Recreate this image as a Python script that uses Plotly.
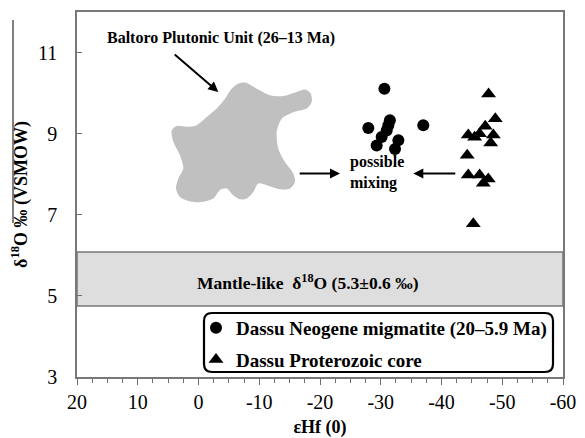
import plotly.graph_objects as go

# ---- data ----
neogene_ehf = [-30.6, -27.95, -37.0, -31.5, -31.25, -30.98, -30.15, -29.33, -32.9, -32.35]
neogene_d18o = [10.11, 9.14, 9.21, 9.33, 9.21, 9.08, 8.92, 8.71, 8.84, 8.62]

protero_ehf = [-47.75, -48.86, -47.2, -44.4, -45.45, -46.26, -48.53, -48.1, -44.23,
               -44.4, -46.27, -46.88, -47.7, -45.23]
protero_d18o = [9.98, 9.37, 9.18, 8.97, 8.91, 9.0, 8.97, 8.77, 8.47,
                7.98, 7.98, 7.78, 7.88, 6.78]

# Baltoro Plutonic Unit field outline (eHf, d18O)
baltoro_ehf = [-7.65, -9.58, -11.77, -13.96, -16.16, -17.53, -18.47, -18.63, -17.81, -15.6,
               -13.7, -12.87, -13.14, -14.24, -15.6, -15.88, -15.06, -13.42, -11.23, -9.84,
               -9.02, -7.93, -6.83, -5.73, -4.64, -3.54, -2.44, -0.79, 1.12, 3.05,
               3.70, 3.33, 2.50, 3.05, 4.15, 4.41, 3.59, 1.94, 0.30, -1.35,
               -3.0, -4.36, -5.46, -6.55, -7.65]
baltoro_d18o = [10.26, 10.11, 9.95, 9.93, 10.03, 10.09, 9.99, 9.78, 9.62, 9.53,
                9.37, 9.04, 8.63, 8.30, 8.02, 7.81, 7.65, 7.63, 7.73, 7.77,
                7.56, 7.40, 7.38, 7.48, 7.65, 7.61, 7.40, 7.32, 7.32, 7.44,
                7.65, 7.89, 8.14, 8.47, 8.80, 9.08, 9.19, 9.17, 9.21, 9.41,
                9.62, 9.86, 10.11, 10.23, 10.26]

mantle_low, mantle_high = 4.75, 6.08
x_ticks = [20, 10, 0, -10, -20, -30, -40, -50, -60]
y_ticks = [3, 5, 7, 9, 11]

SERIF = "Liberation Serif, Times New Roman, serif"

fig = go.Figure()

fig.add_trace(go.Scatter(
    x=baltoro_ehf, y=baltoro_d18o, mode="lines", fill="toself",
    fillcolor="rgb(192,192,192)", line=dict(color="rgb(192,192,192)", width=0, shape="spline", smoothing=0.8),
    showlegend=False, hoverinfo="skip"))

fig.add_trace(go.Scatter(
    x=neogene_ehf, y=neogene_d18o, mode="markers",
    marker=dict(symbol="circle", size=12, color="black"),
    name="<b>Dassu Neogene migmatite (20–5.9 Ma)</b>", legendgroup="a"))

fig.add_trace(go.Scatter(
    x=protero_ehf, y=protero_d18o, mode="markers",
    marker=dict(symbol="triangle-up", size=13, color="black"),
    name="<b>Dassu Proterozoic core</b>", legendgroup="b"))

# mantle band
fig.add_shape(type="rect", xref="paper", yref="y", x0=0, x1=1, y0=mantle_low, y1=mantle_high,
              fillcolor="rgb(222,222,222)", line=dict(color="rgb(120,120,120)", width=1.5), layer="below")

# rounded legend box
lx0, lx1, ly0, ly1 = (204 - 77) / 486, (553 - 77) / 486, (377 - 372) / 365, (377 - 313) / 365
rx, ry = 8 / 486, 8 / 365
path = (f"M {lx0+rx},{ly0} L {lx1-rx},{ly0} Q {lx1},{ly0} {lx1},{ly0+ry} "
        f"L {lx1},{ly1-ry} Q {lx1},{ly1} {lx1-rx},{ly1} L {lx0+rx},{ly1} "
        f"Q {lx0},{ly1} {lx0},{ly1-ry} L {lx0},{ly0+ry} Q {lx0},{ly0} {lx0+rx},{ly0} Z")
fig.add_shape(type="path", xref="paper", yref="paper", path=path,
              line=dict(color="black", width=2.2), fillcolor="white", layer="above")

# scan artefact line at left
fig.add_shape(type="line", xref="paper", yref="paper", x0=(13 - 77) / 486, x1=(13 - 77) / 486,
              y0=(377 - 223) / 365, y1=(377 - 20) / 365, line=dict(color="black", width=1))

fig.add_annotation(x=-3.7, y=11.37, text="<b>Baltoro Plutonic Unit (26–13 Ma)</b>",
                   showarrow=False, font=dict(family=SERIF, size=16, color="black"))
fig.add_annotation(x=-18.0, y=5.34, text="<b>Mantle-like  δ<sup>18</sup>O (5.3±0.6 ‰)</b>",
                   showarrow=False, font=dict(family=SERIF, size=17.5, color="black"))
fig.add_annotation(x=-24.6, y=8.05, text="<b>possible<br>mixing</b>", showarrow=False,
                   xanchor="left", align="left", font=dict(family=SERIF, size=16, color="black"))

arrow = dict(showarrow=True, arrowhead=2, arrowsize=1, arrowwidth=2, arrowcolor="black",
             axref="pixel", ayref="pixel", text=" ")
fig.add_annotation(x=-3.26, y=10.03, ax=-46.6, ay=-40, **arrow)
fig.add_annotation(x=-23.29, y=8.02, ax=-43.3, ay=0, **arrow)
fig.add_annotation(x=-35.36, y=8.02, ax=45, ay=0, **arrow)

fig.update_layout(
    width=585, height=438,
    margin=dict(l=77, r=22, t=12, b=61, autoexpand=False),
    paper_bgcolor="white", plot_bgcolor="white",
    font=dict(family=SERIF, color="black"),
    showlegend=True,
    legend=dict(x=(196 - 77) / 486, y=(377 - 309) / 365, xanchor="left", yanchor="top",
                bgcolor="rgba(0,0,0,0)", borderwidth=0, traceorder="grouped", tracegroupgap=4,
                font=dict(family=SERIF, size=19, color="black"),
                itemwidth=30),
    xaxis=dict(range=[20, -60], tickvals=x_ticks, ticktext=[str(v) for v in x_ticks],
               ticks="outside", ticklen=6, tickcolor="rgb(110,110,110)",
               minor=dict(dtick=2.5, ticks="outside", ticklen=4, tickcolor="rgb(110,110,110)"),
               showline=True, linecolor="rgb(120,120,120)", linewidth=1.5, mirror=True,
               showgrid=False, zeroline=False, automargin=False,
               tickfont=dict(family=SERIF, size=20, color="black"),
               title=dict(text="<b>εHf (0)</b>", font=dict(family=SERIF, size=18, color="black"), standoff=9)),
    yaxis=dict(range=[3, 12], tickvals=y_ticks, ticktext=[str(v) for v in y_ticks],
               ticks="inside", ticklen=5, tickcolor="rgb(110,110,110)",
               showline=True, linecolor="rgb(120,120,120)", linewidth=1.5, mirror=True,
               showgrid=False, zeroline=False, ticklabelstandoff=14, automargin=False,
               tickfont=dict(family=SERIF, size=20, color="black"),
               title=dict(text="<b>δ<sup>18</sup>O ‰ (VSMOW)</b>", font=dict(family=SERIF, size=18, color="black"), standoff=6)),
)

fig.write_html("out.html")
